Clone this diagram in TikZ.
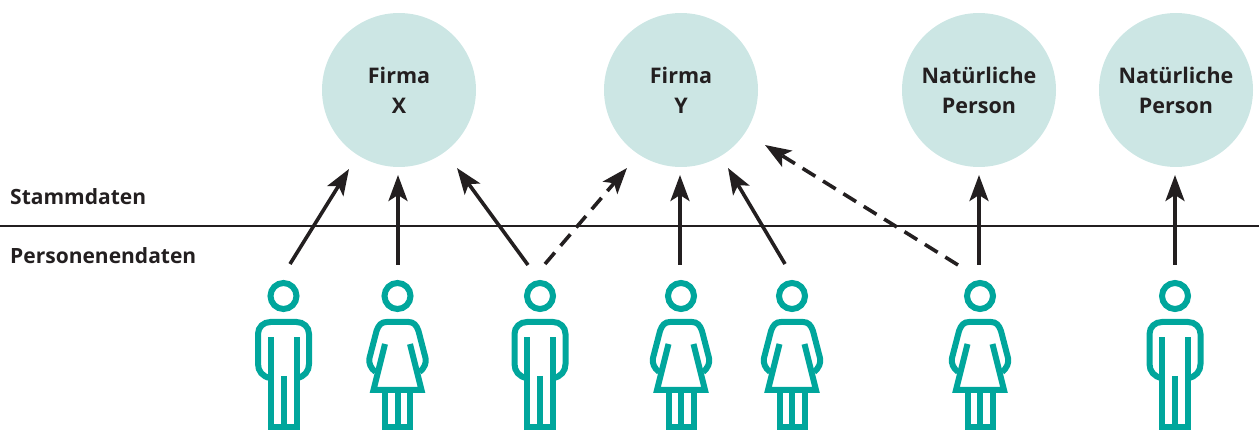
\documentclass[tikz,border=0pt]{standalone}
\usepackage{fontspec}
\setmainfont{Open Sans}
\usetikzlibrary{arrows.meta}
\definecolor{tealp}{HTML}{00A69C}
\definecolor{circ}{HTML}{CCE6E4}
\definecolor{ink}{HTML}{231F20}
\tikzset{
  x=1pt,y=-1pt,
  org/.style={circle,fill=circ,draw=none,minimum size=154pt,inner sep=0pt,align=center,
    font=\fontsize{21.5}{30}\selectfont\bfseries,text=ink},
  lev/.style={anchor=base west,inner sep=0pt,font=\fontsize{21}{25}\selectfont\bfseries,text=ink},
  rel/.style={draw=ink,line width=3.6pt,-{Stealth[length=26pt,width=19pt,inset=6pt]}},
  reld/.style={rel,dash pattern=on 15pt off 9pt},
  body/.style={draw=tealp,line width=6pt,line join=miter},
  pics/man/.style={code={
    \draw[body] (0,0) circle (13);
    \draw[body] (-13,82) .. controls (-21,81) and (-25.5,75) .. (-25.5,68) -- (-25.5,38)
       .. controls (-25.5,31) and (-20,26) .. (-13,26) -- (13,26)
       .. controls (20,26) and (25.5,31) .. (25.5,38) -- (25.5,68)
       .. controls (25.5,75) and (21,81) .. (13,82);
    \draw[body] (-13,41.5) -- (-13,134) (13,41.5) -- (13,134) (0,80) -- (0,134) (-13,131) -- (13,131);
  }},
  pics/woman/.style={code={
    \draw[body] (0,0) circle (13);
    \draw[body] (-22,76) .. controls (-27,72) and (-29,67) .. (-28,62) -- (-21,35)
       .. controls (-19,29) and (-16,26) .. (-11,26) -- (11,26)
       .. controls (16,26) and (19,29) .. (21,35) -- (28,62)
       .. controls (29,67) and (27,72) .. (22,76);
    \draw[body] (-12.5,48) -- (-24,94) -- (24,94) -- (12.5,48);
    \draw[body] (-12.5,96) -- (-12.5,134) (0,96) -- (0,134) (12.5,96) -- (12.5,134) (-12.5,131) -- (12.5,131);
  }},
}
\begin{document}
\begin{tikzpicture}
\useasboundingbox (0,0) rectangle (1259,430);
\node[org] (fx) at (399,90) {Firma\\X};
\node[org] (fy) at (681,90) {Firma\\Y};
\node[org] (n1) at (979,90) {Natürliche\\Person};
\node[org] (n2) at (1176,90) {Natürliche\\Person};
\coordinate (ll) at (0,226);
\coordinate (lr) at (1259,226);
\draw[ink,line width=2.6pt] (ll) -- (lr);
\node[lev] (st) at (10,205) {Stammdaten};
\node[lev] (pd) at (10,264) {Personenendaten};
\path (283.5,296) pic {man};
\path (397.5,296) pic {woman};
\path (540,296) pic {man};
\path (681,296) pic {woman};
\path (792,296) pic {woman};
\path (980,296) pic {woman};
\path (1175,296) pic {man};
% connector ends
\coordinate (a1) at (290,264); \coordinate (b1) at (349,169);
\coordinate (a2) at (398,265); \coordinate (b2) at (398,175);
\coordinate (a3) at (528,265); \coordinate (b3) at (457,168);
\coordinate (a4) at (545,264); \coordinate (b4) at (627,168);
\coordinate (a5) at (680,265); \coordinate (b5) at (680,175);
\coordinate (a6) at (785,264); \coordinate (b6) at (728,168);
\coordinate (a7) at (958,265); \coordinate (b7) at (765,145);
\coordinate (a8) at (979,265); \coordinate (b8) at (979,175);
\coordinate (a9) at (1175,265); \coordinate (b9) at (1175,175);
\draw[rel] (a1) -- (b1);
\draw[rel] (a2) -- (b2);
\draw[rel] (a3) -- (b3);
\draw[reld] (a4) -- (b4);
\draw[rel] (a5) -- (b5);
\draw[rel] (a6) -- (b6);
\draw[reld] (a7) -- (b7);
\draw[rel] (a8) -- (b8);
\draw[rel] (a9) -- (b9);
\end{tikzpicture}
\end{document}
